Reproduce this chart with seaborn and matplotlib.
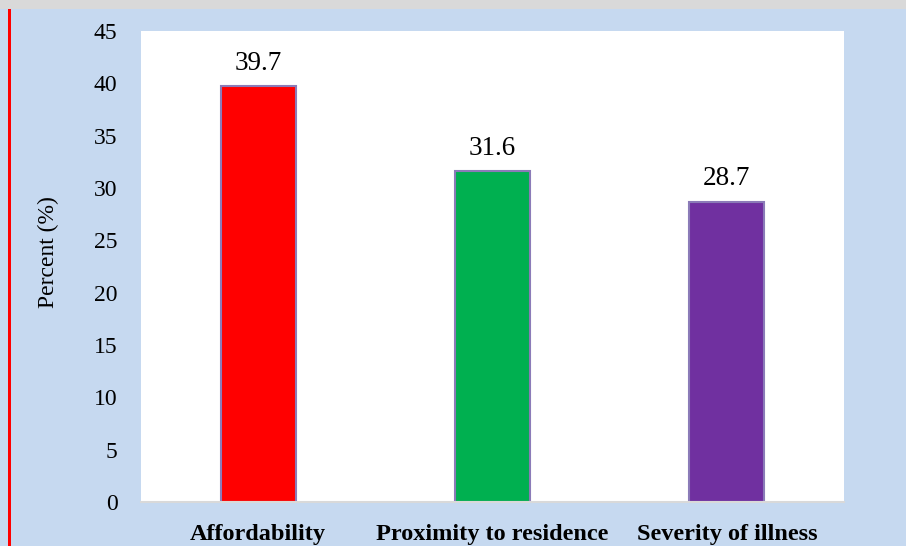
import matplotlib
matplotlib.use("Agg")
import matplotlib.pyplot as plt
import seaborn as sns
import pandas as pd
from matplotlib.patches import Rectangle

categories = ["Affordability", "Proximity to residence", "Severity of illness"]
values = [39.7, 31.6, 28.7]
colors = ["#FF0000", "#00B050", "#7030A0"]
yticks = [0, 5, 10, 15, 20, 25, 30, 35, 40, 45]

sns.set_theme(style="white")
plt.rcParams['font.family'] = ['Liberation Serif', 'DejaVu Serif']

df = pd.DataFrame({"cat": categories, "val": values})

fig = plt.figure(figsize=(9.06, 5.46), dpi=100)
fig.patch.set_facecolor("#C6D9F0")
# top gray strip and left red line
fig.patches.append(Rectangle((0, 1 - 9/546), 1, 9/546, transform=fig.transFigure,
                             facecolor="#D9D9D9", edgecolor="none", zorder=0))
fig.patches.append(Rectangle((8/906, 0), 3/906, 1 - 9/546, transform=fig.transFigure,
                             facecolor="#FF0000", edgecolor="none", zorder=0))

ax = fig.add_axes([141/906, 1 - 502/546, (844 - 141)/906, (502 - 31)/546])
ax.set_facecolor("white")
sns.barplot(data=df, x="cat", y="val", hue="cat", palette=colors, legend=False,
            saturation=1, width=0.32, edgecolor="#8B7BB8", linewidth=1.5, ax=ax)

for i, v in enumerate(values):
    ax.text(i, v + 1.0, f"{v}", ha="center", va="bottom", fontsize=19.5, color="black")

ax.set_ylim(0, 45)
ax.set_yticks(yticks)
ax.set_yticklabels([str(t) for t in yticks], fontsize=17, color="black")
ax.set_xlabel("")
ax.set_ylabel("Percent (%)", fontsize=17, color="black")
ax.yaxis.set_label_coords(-0.117, 0.53)
ax.tick_params(axis="y", length=0, pad=17, labelcolor="black")
ax.tick_params(axis="x", length=0, pad=16, labelcolor="black")
for lab in ax.get_xticklabels():
    lab.set_fontweight("bold")
    lab.set_fontsize(17.5)
for s in ["top", "right", "left"]:
    ax.spines[s].set_visible(False)
ax.spines["bottom"].set_color("#D9D9D9")
ax.spines["bottom"].set_linewidth(1.5)

fig.savefig("out.png", dpi=100, facecolor=fig.get_facecolor())
